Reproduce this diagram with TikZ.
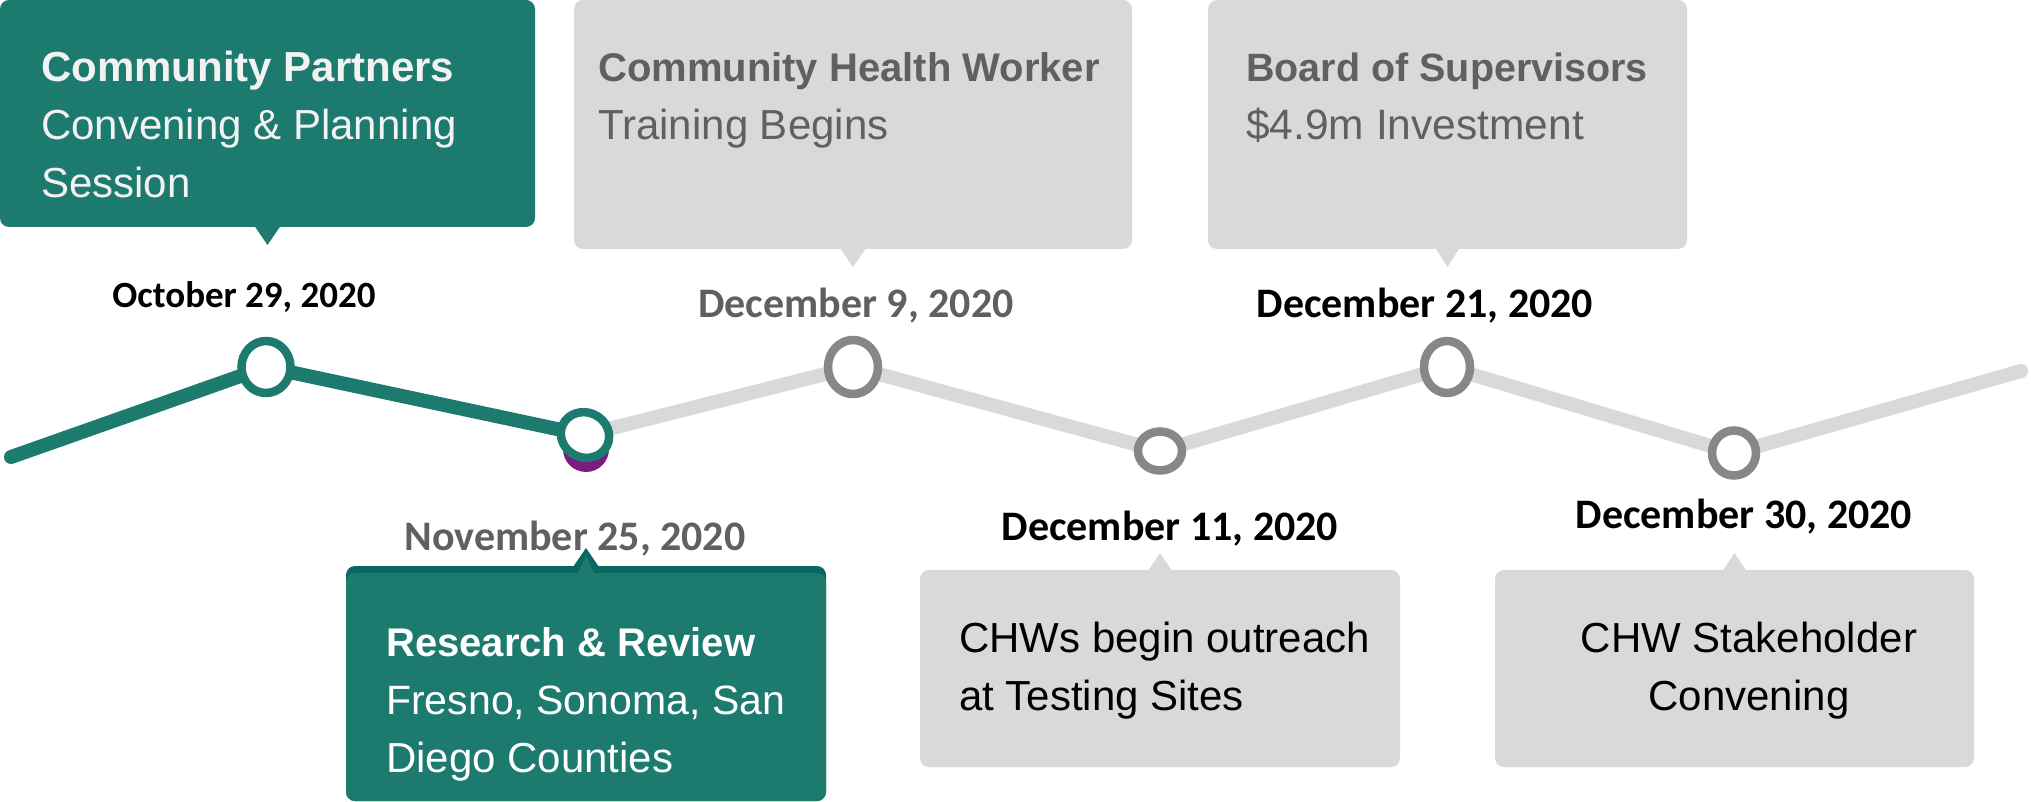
\documentclass[tikz,border=0pt]{standalone}
\usepackage{fontspec}
\setmainfont{Liberation Sans}
\newfontfamily\datefont{Carlito}
\usetikzlibrary{calc,shapes.geometric}
\definecolor{tealmain}{HTML}{1D7A6E}
\definecolor{tealdark}{HTML}{066860}
\definecolor{boxgray}{HTML}{D9D9D9}
\definecolor{txtgray}{HTML}{606060}
\definecolor{ringgray}{HTML}{878787}
\definecolor{linegray}{HTML}{D9D9D9}
\definecolor{purp}{HTML}{7A1C80}
\tikzset{
  card/.style={rectangle, rounded corners=9pt, inner sep=0pt, outer sep=0pt, anchor=north west},
  cardtext/.style={anchor=base west, align=left, inner sep=0pt, font=\fontsize{42}{58}\selectfont},
  datelabel/.style={anchor=base, inner sep=0pt, font=\datefont\bfseries\fontsize{42}{46}\selectfont},
  ring/.style={ellipse, inner sep=0pt, fill=white, line width=8.5pt},
  tline/.style={line width=14pt, line cap=round, line join=round},
}
\begin{document}
\begin{tikzpicture}[x=1pt,y=-1pt]
\useasboundingbox (0,0) rectangle (2031,802);

% ---------- top boxes ----------
\node[card, fill=tealmain, minimum width=535pt, minimum height=227pt] (b1) at (0,0) {};
\fill[tealmain] ($(b1.south)+(-13,-1)$) -- ($(b1.south)+(0,18)$) -- ($(b1.south)+(13,-1)$) -- cycle;
\node[cardtext, text=white!95!black] (t1) at (41,198)
  {\bfseries Community Partners\\Convening \& Planning\\Session};

\node[card, fill=boxgray, minimum width=558pt, minimum height=249pt] (b2) at (574,0) {};
\fill[boxgray] ($(b2.south)+(-13,-1)$) -- ($(b2.south)+(0,18)$) -- ($(b2.south)+(13,-1)$) -- cycle;
\node[cardtext, text=txtgray] (t2) at (598,140)
  {\fontsize{40}{58}\selectfont\bfseries Community Health Worker\\\fontsize{42}{58}\selectfont\mdseries Training Begins};

\node[card, fill=boxgray, minimum width=479pt, minimum height=249pt] (b3) at (1208,0) {};
\fill[boxgray] ($(b3.south)+(-12,-1)$) -- ($(b3.south)+(0,18)$) -- ($(b3.south)+(12,-1)$) -- cycle;
\node[cardtext, text=txtgray] (t3) at (1246,140)
  {\fontsize{39.5}{58}\selectfont\bfseries Board of Supervisors\\\fontsize{42.5}{58}\selectfont\mdseries \$4.9m Investment};

% ---------- bottom boxes ----------
\node[card, fill=tealdark, minimum width=480pt, minimum height=235pt] (b4) at (346,566) {};
\fill[tealdark] ($(b4.north)+(-13,1)$) -- ($(b4.north)+(0,-18)$) -- ($(b4.north)+(13,1)$) -- cycle;
\fill[tealmain] ($(b4.north)+(-8,7)$) -- ($(b4.north)+(0,-10)$) -- ($(b4.north)+(8,7)$) -- cycle;
\node[card, fill=tealmain, minimum width=480pt, minimum height=228pt] (b4in) at (346,573) {};
\node[cardtext, text=white] (t4) at (386,772)
  {\fontsize{40}{58}\selectfont\bfseries Research \& Review\\\fontsize{41}{58}\selectfont\mdseries Fresno, Sonoma, San\\Diego Counties};

\node[card, fill=boxgray, minimum width=480pt, minimum height=197pt] (b5) at (920,570) {};
\fill[boxgray] ($(b5.north)+(-12,1)$) -- ($(b5.north)+(0,-17)$) -- ($(b5.north)+(12,1)$) -- cycle;
\node[cardtext, text=black] (t5) at (959,710)
  {CHWs begin outreach\\at Testing Sites};

\node[card, fill=boxgray, minimum width=479pt, minimum height=197pt] (b6) at (1495,570) {};
\fill[boxgray] ($(b6.north)+(-12,1)$) -- ($(b6.north)+(0,-17)$) -- ($(b6.north)+(12,1)$) -- cycle;
\node[cardtext, anchor=base, align=center, text=black] (t6) at (1749,710)
  {CHW Stakeholder\\Convening};

% ---------- dates ----------
\node[datelabel, text=black, font=\datefont\bfseries\fontsize{37}{40}\selectfont] (d1) at (244,307) {October 29, 2020};
\node[datelabel, text=txtgray] (d3) at (856,317) {December 9, 2020};
\node[datelabel, text=black] (d5) at (1425,317) {December 21, 2020};
\node[datelabel, text=txtgray] (d2) at (575,550) {November 25, 2020};
\node[datelabel, text=black] (d4) at (1170,540) {December 11, 2020};
\node[datelabel, text=black] (d6) at (1744,528) {December 30, 2020};

% ---------- timeline ----------
\coordinate (s) at (11,457);
\coordinate (e) at (2021,371);
\coordinate (p1) at (266,367);
\coordinate (p2) at (585,435);
\coordinate (p3) at (853,367);
\coordinate (p4) at (1160,451);
\coordinate (p5) at (1447,367);
\coordinate (p6) at (1734,453);

\draw[tline, linegray] (p2) -- (p3) -- (p4) -- (p5) -- (p6) -- (e);
\draw[tline, tealmain] (s) -- (p1) -- (p2);

\fill[purp] (586,449) circle[radius=23pt];

\node[ring, draw=tealmain, minimum width=49pt, minimum height=52pt] (c1) at (p1) {};
\node[ring, draw=tealmain, minimum width=49pt, minimum height=45pt, rotate=-25] (c2) at (p2) {};
\node[ring, draw=ringgray, minimum width=50pt, minimum height=54pt] (c3) at (p3) {};
\node[ring, draw=ringgray, minimum width=44pt, minimum height=39pt] (c4) at (p4) {};
\node[ring, draw=ringgray, minimum width=46pt, minimum height=52pt] (c5) at (p5) {};
\node[ring, draw=ringgray, minimum width=44pt, minimum height=45pt] (c6) at (p6) {};
\end{tikzpicture}
\end{document}
